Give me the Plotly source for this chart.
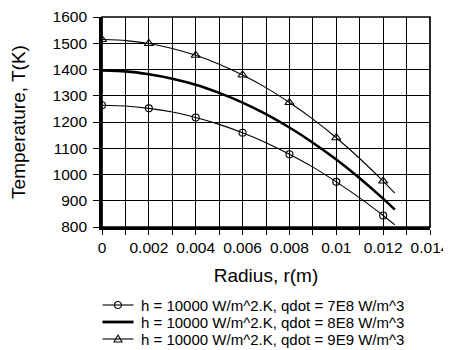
import plotly.graph_objects as go

# radius (m) and temperatures (K)
radius = [0, 0.001, 0.002, 0.003, 0.004, 0.005, 0.006, 0.007, 0.008, 0.009,
          0.010, 0.011, 0.012, 0.0125]
temp_7e8 = [1264, 1261, 1252, 1238, 1217, 1191, 1159, 1121, 1077, 1028,
            972, 911, 844, 808]
temp_8e8 = [1396, 1393, 1382, 1365, 1342, 1311, 1274, 1230, 1179, 1121,
            1057, 986, 908, 866]
temp_9e9 = [1514, 1510, 1499, 1480, 1454, 1420, 1379, 1331, 1274, 1211,
            1140, 1061, 975, 929]

# markers sit on every 0.002 m
marker_idx = [0, 2, 4, 6, 8, 10, 12]

legend_labels = [
    "h = 10000 W/m^2.K, qdot = 7E8 W/m^3",
    "h = 10000 W/m^2.K, qdot = 8E8 W/m^3",
    "h = 10000 W/m^2.K, qdot = 9E9 W/m^3",
]

FONT = "Liberation Sans, Arial, sans-serif"
FS = 15.5

# page is 451x350 but the html body has an 8px margin, so the figure is
# made smaller and the margins are given in page pixels minus that offset
OFF = 8
W_FIG, H_FIG = 451 - OFF, 350 - OFF
L, R, T, B = 102 - OFF, 21, 17 - OFF, 123
PW = W_FIG - L - R
PH = H_FIG - T - B


def px_x(px):
    # page pixel -> paper x
    return (px - OFF - L) / PW


def px_y(py):
    # page pixel -> paper y
    return (H_FIG - B - (py - OFF)) / PH


fig = go.Figure()

series = [
    (temp_7e8, 1.1, "circle-open", 7),
    (temp_8e8, 2.6, None, 0),
    (temp_9e9, 1.1, "triangle-up-open", 8),
]

for temps, lw, sym, ms in series:
    fig.add_trace(go.Scatter(
        x=radius, y=temps, mode="lines",
        line=dict(color="black", width=lw, shape="spline", smoothing=0.6),
        showlegend=False, hoverinfo="skip",
    ))
    if sym:
        fig.add_trace(go.Scatter(
            x=[radius[i] for i in marker_idx],
            y=[temps[i] for i in marker_idx],
            mode="markers",
            marker=dict(symbol=sym, size=ms, color="black",
                        line=dict(color="black", width=1.1)),
            showlegend=False,
        ))

# hand-made legend below the chart (tight row spacing like the original)
rows_y = [305, 322, 339]
line_widths = [1.1, 2.8, 1.1]
shapes = []
annotations = []
for ry, lw, lab in zip(rows_y, line_widths, legend_labels):
    shapes.append(dict(type="line", xref="paper", yref="paper",
                       x0=px_x(102.5), x1=px_x(133.5), y0=px_y(ry), y1=px_y(ry),
                       line=dict(color="black", width=lw)))
    annotations.append(dict(text=lab, xref="paper", yref="paper",
                            x=px_x(138.5), y=px_y(ry), xanchor="left",
                            yanchor="middle", showarrow=False,
                            font=dict(family=FONT, size=15, color="black")))

# legend glyphs
shapes.append(dict(type="circle", xref="paper", yref="paper",
                   xsizemode="pixel", ysizemode="pixel",
                   xanchor=px_x(118), yanchor=px_y(rows_y[0]),
                   x0=-3.5, x1=3.5, y0=-3.5, y1=3.5,
                   line=dict(color="black", width=1.1)))
shapes.append(dict(type="path", xref="paper", yref="paper",
                   xsizemode="pixel", ysizemode="pixel",
                   xanchor=px_x(118), yanchor=px_y(rows_y[2]),
                   path="M -4,-3 L 4,-3 L 0,4 Z",
                   line=dict(color="black", width=1.1)))

# frame of the plot area
shapes.append(dict(type="rect", xref="paper", yref="paper",
                   x0=0, x1=1, y0=0, y1=1,
                   line=dict(color="black", width=1.7)))

fig.update_layout(
    width=W_FIG, height=H_FIG,
    margin=dict(l=L, r=R, t=T, b=B, autoexpand=False),
    paper_bgcolor="white", plot_bgcolor="white",
    font=dict(family=FONT, size=FS, color="black"),
    shapes=shapes, annotations=annotations,
    showlegend=False,
)

fig.update_xaxes(
    range=[0, 0.014], dtick=0.002, tick0=0,
    showgrid=True, gridcolor="black", gridwidth=1.3,
    ticks="outside", ticklen=5, tickwidth=1.3, tickcolor="black",
    minor=dict(dtick=0.001, showgrid=True, gridcolor="black", gridwidth=1.3,
               ticks="outside", ticklen=5, tickwidth=1.3, tickcolor="black"),
    showline=True, linecolor="black", linewidth=2.7,
    zeroline=False, ticklabeloverflow="allow",
    title=dict(text="Radius, r(m)", standoff=14),
    automargin=False,
)
fig.update_yaxes(
    range=[800, 1600], dtick=100,
    showgrid=True, gridcolor="black", gridwidth=1.3,
    ticks="outside", ticklen=6, tickwidth=1.3, tickcolor="black",
    ticklabelstandoff=3,
    showline=True, linecolor="black", linewidth=2.7,
    zeroline=False, ticklabeloverflow="allow",
    title=dict(text="Temperature, T(K)", standoff=30),
    automargin=False,
)

fig.write_html("out.html")
